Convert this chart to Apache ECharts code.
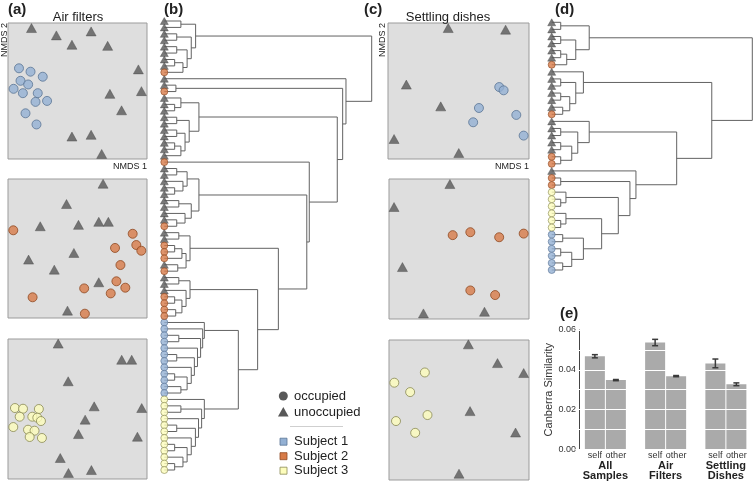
<!DOCTYPE html>
<html><head><meta charset="utf-8">
<script src="https://cdn.jsdelivr.net/npm/echarts@6/dist/echarts.min.js"></script>
<style>html,body{margin:0;padding:0;background:#fff}#c{width:756px;height:482px}</style>
</head><body><div id="c"></div>
<script>
// ================= DATA =================
// NMDS ordinations (box-normalised coordinates, 0-100)
const airS1Occupied = [[7.9,66.7],[16.2,64.2],[25.0,60.5],[9.0,57.5],[14.5,54.8],[4.0,51.6],[10.7,48.4],[21.4,48.4],[19.8,42.0],[28.1,42.7],[12.6,33.6],[20.5,25.4]];
const airS1Unoccupied = [[16.9,96.3],[34.8,90.9],[59.8,93.8],[46.0,84.0],[71.7,83.2],[93.8,65.9],[96.0,49.9],[73.3,47.9],[81.7,35.8],[46.0,16.5],[59.8,17.8],[67.4,3.7]];
const airS2Occupied = [[3.8,63.1],[89.7,60.6],[92.3,52.5],[95.9,48.4],[77.0,50.4],[80.9,38.1],[78.0,26.4],[84.4,21.8],[54.8,21.3],[73.9,17.7],[17.7,14.9],[55.3,3.1]];
const airS2Unoccupied = [[68.4,96.6],[42.1,82.0],[23.2,66.0],[50.7,67.0],[65.3,69.2],[72.2,69.2],[47.4,46.8],[14.8,42.0],[33.3,34.8],[65.3,25.7],[42.8,5.3]];
const airS3Occupied = [[5.0,50.7],[10.8,50.2],[22.2,50.0],[8.4,44.5],[17.5,44.5],[21.1,43.8],[23.7,41.4],[3.8,37.1],[14.4,35.2],[19.1,34.5],[15.6,30.0],[24.4,29.3]];
const airS3Unoccupied = [[36.1,96.7],[81.8,85.2],[89.0,85.2],[43.3,69.8],[62.0,51.9],[96.2,50.7],[55.5,42.4],[50.7,32.1],[93.1,30.2],[37.6,15.0],[43.5,4.3],[60.0,6.4]];
const settS1Occupied = [[78.9,52.9],[82.0,50.5],[64.5,37.5],[60.4,27.0],[91.0,32.4],[96.2,17.2]];
const settS1Unoccupied = [[42.7,96.3],[83.4,95.1],[13.0,54.7],[37.4,38.7],[4.3,14.7],[50.2,4.4]];
const settS2Occupied = [[45.5,59.9],[58.1,62.0],[78.7,58.4],[96.2,61.0],[58.1,20.4],[75.8,17.1]];
const settS2Unoccupied = [[43.5,96.4],[3.6,80.0],[9.6,37.1],[24.6,4.0],[68.2,5.2]];
const settS3Occupied = [[25.6,76.8],[3.8,69.5],[15.1,62.8],[27.5,46.4],[5.0,42.1],[18.7,33.7]];
const settS3Unoccupied = [[56.7,96.9],[77.5,83.5],[96.2,76.4],[57.9,49.2],[90.4,33.9],[50.0,4.5]];

// Dendrograms: leaf classes (T unoccupied, B subject 1, O subject 2, Y subject 3)
const airLeaves = ('TTTTTTTTOTTOTTTTTTTTTTOTTTTTTTTTOTTOOOTOTTTOOOO' + 'BBBBBBBBBBBB' + 'YYYYYYYYYYYY').split('');
// tree nodes: [height, left, right]; numbers are leaf indices
const airTree =
 [1.0,
  [0.151,[0.08,0,1],[0.13,[0.06,2,3],[0.11,[0.06,4,5],[0.09,[0.05,6,7],8]]]],
  [0.876, 9,
   [0.86, [0.056,10,11],
    [0.834,
     [0.167,[0.08,12,[0.05,13,14]],[0.12,[0.06,15,16],[0.1,[0.06,17,18],[0.08,[0.05,19,20],21]]]],
     [0.699, 22,
      [0.687,
       [0.167,[0.11,[0.06,23,24],[0.09,25,[0.05,26,27]]],[0.13,[0.07,28,29],[0.1,30,[0.06,31,32]]]],
       [0.55,
        [0.124,[0.07,33,34],[0.105,[0.085,[0.05,35,36],37],[0.065,38,39]]],
        [0.45,
         [0.124,[0.07,40,41],[0.105,42,[0.085,[0.05,43,44],[0.055,45,46]]]],
         [0.357,
          [0.193,47,[0.185,48,[0.175,[0.07,49,50],[0.16,51,[0.145,[0.06,52,53],[0.13,54,[0.11,[0.05,55,56],[0.08,57,58]]]]]]]],
          [0.193,59,[0.18,[0.08,60,61],[0.165,62,[0.15,[0.06,63,64],[0.13,65,[0.11,[0.05,66,67],[0.09,68,[0.05,69,70]]]]]]]]
         ]]]]]]]]];
const settLeaves = ('TTTTTTO' + 'TTTTTTO' + 'TTTTTOO' + 'T' + 'OO' + 'YYYYYY' + 'BBBBBB').split('');
const settTree =
 [1.0,
  [0.187,[0.045,0,1],[0.12,[0.045,2,3],[0.075,[0.045,4,5],6]]],
  [0.798,
   [0.158,7,[0.12,[0.045,8,9],[0.09,[0.045,10,11],[0.055,12,13]]]],
   [0.623,
    [0.187,14,[0.13,[0.045,15,16],[0.1,[0.045,17,18],[0.045,19,20]]]],
    [0.42, 21,
     [0.39,[0.045,22,23],
      [0.332,[0.071,24,[0.045,25,26]],
       [0.249,[0.071,27,[0.045,28,29]],[0.158,[0.055,30,31],[0.1,[0.045,32,33],[0.055,34,35]]]]]]]]]];

// Canberra similarity
const groups = ['All\nSamples', 'Air\nFilters', 'Settling\nDishes'];
const kinds = ['self', 'other'];
const selfMean = [0.0468, 0.0537, 0.0432];
const selfErr = [0.0008, 0.0016, 0.0022];
const otherMean = [0.0348, 0.0368, 0.0327];
const otherErr = [0.0003, 0.0003, 0.0007];
const simTicks = [0, 0.02, 0.04, 0.06];
const legendShapes = ['occupied', 'unoccupied'];
const legendSubjects = ['Subject 1', 'Subject 2', 'Subject 3'];

// ================= STYLE / LAYOUT =================
const FONT = '"Liberation Sans", Arial, Helvetica, sans-serif';
const FILL = {T:'#585858', B:'#93b0d3', O:'#d77b48', Y:'#fdfdbc'};
const EDGE = {T:'#585858', B:'#5b7595', O:'#8f4a23', Y:'#8a8a55'};
const grids = [], xAxes = [], yAxes = [], series = [];
function addGrid(g, xa, ya) {
  grids.push(g);
  const gi = grids.length - 1;
  xAxes.push(Object.assign({gridIndex: gi}, xa));
  yAxes.push(Object.assign({gridIndex: gi}, ya));
  return {x: xAxes.length - 1, y: yAxes.length - 1};
}

// ---- scatter panels ----
const boxes = [
  {left:8, top:23, width:139, height:136, occ:airS1Occupied, un:airS1Unoccupied, c:'B'},
  {left:8, top:179, width:139, height:139, occ:airS2Occupied, un:airS2Unoccupied, c:'O'},
  {left:8, top:339, width:139, height:140, occ:airS3Occupied, un:airS3Unoccupied, c:'Y'},
  {left:388, top:23, width:141, height:136, occ:settS1Occupied, un:settS1Unoccupied, c:'B'},
  {left:389, top:179, width:140, height:140, occ:settS2Occupied, un:settS2Unoccupied, c:'O'},
  {left:389, top:340, width:140, height:140, occ:settS3Occupied, un:settS3Unoccupied, c:'Y'}
];
boxes.forEach(b => {
  const ax = addGrid(
    {left:b.left, top:b.top, width:b.width, height:b.height, show:true, backgroundColor:'#dedede', borderColor:'#9b9b9b', borderWidth:1},
    {type:'value', min:0, max:100, show:false},
    {type:'value', min:0, max:100, show:false});
  series.push({type:'scatter', xAxisIndex:ax.x, yAxisIndex:ax.y, data:b.un, symbol:'triangle', symbolSize:[10,9], clip:false,
    itemStyle:{color:FILL.T, borderColor:'#444', borderWidth:0.5}, z:3, silent:true});
  series.push({type:'scatter', xAxisIndex:ax.x, yAxisIndex:ax.y, data:b.occ, symbol:'circle', symbolSize:9, clip:false,
    itemStyle:{color:FILL[b.c], borderColor:EDGE[b.c], borderWidth:1}, z:4, silent:true});
});

// ---- dendrograms ----
function walk(node, out) {
  if (typeof node === 'number') return {h:0, y:node};
  const a = walk(node[1], out), b = walk(node[2], out);
  out.push([a.h, a.y, node[0], b.y, b.h]);
  return {h:node[0], y:(a.y + b.y) / 2};
}
function addDendro(g, leaves, tree, sz) {
  const ax = addGrid(g,
    {type:'value', min:0, max:1, show:false},
    {type:'value', min:0, max:leaves.length - 1, inverse:true, show:false});
  const segs = []; walk(tree, segs);
  series.push({type:'custom', xAxisIndex:ax.x, yAxisIndex:ax.y, data:segs, z:1, silent:true, clip:false,
    encode:{x:[0,2,4], y:[1,3]},
    renderItem:(p, api) => {
      const pts = [api.coord([api.value(0), api.value(1)]), api.coord([api.value(2), api.value(1)]),
                   api.coord([api.value(2), api.value(3)]), api.coord([api.value(4), api.value(3)])];
      return {type:'polyline', shape:{points:pts}, style:{stroke:'#626262', lineWidth:1, fill:null}};
    }});
  ['T','B','O','Y'].forEach(k => {
    const d = [];
    leaves.forEach((c, i) => { if (c === k) d.push([0, i]); });
    series.push({type:'scatter', xAxisIndex:ax.x, yAxisIndex:ax.y, data:d, clip:false, silent:true, z:3,
      symbol: k === 'T' ? 'triangle' : 'circle', symbolSize: k === 'T' ? [8,7] : sz,
      itemStyle:{color:FILL[k], borderColor: k === 'T' ? '#444' : EDGE[k], borderWidth: k === 'T' ? 0.5 : 0.8}});
  });
}
addDendro({left:164.3, top:21, width:207.4, height:449}, airLeaves, airTree, 7);
addDendro({left:551.7, top:22.3, width:200.6, height:247.7}, settLeaves, settTree, 7);

// ---- similarity bar chart ----
const bg = addGrid({left:575.25, top:330, width:184.5, height:119.3},
  {type:'category', data:groups, axisLine:{show:false}, axisTick:{show:false},
   axisLabel:{interval:0, fontFamily:FONT, fontWeight:'bold', fontSize:11, color:'#222', margin:12, lineHeight:10}},
  {type:'value', min:simTicks[0], max:simTicks[simTicks.length-1], interval:simTicks[1]-simTicks[0], offset:-3.75,
   axisLine:{show:true, lineStyle:{color:'#444'}}, axisTick:{show:true, length:3, lineStyle:{color:'#444'}},
   axisLabel:{fontFamily:FONT, fontSize:9, color:'#333', margin:3, formatter:v => v.toFixed(2)},
   splitLine:{show:false},
   name:'Canberra Similarity', nameLocation:'middle', nameGap:23,
   nameTextStyle:{fontFamily:FONT, fontSize:11, color:'#333'}});
// white guide lines drawn over the bars
yAxes.push({gridIndex:grids.length-1, type:'value', min:0, max:0.06, interval:0.01, z:10,
  axisLine:{show:false}, axisTick:{show:false}, axisLabel:{show:false},
  splitLine:{show:true, lineStyle:{color:'#ffffff', width:1}}});
const barStyle = {color:'#aaaaaa'};
[selfMean, otherMean].forEach((vals, k) => {
  series.push({type:'bar', name:kinds[k], xAxisIndex:bg.x, yAxisIndex:bg.y, data:vals, barWidth:20, barGap:'5%',
    itemStyle:barStyle, z:2, silent:true,
    label:{show:true, position:'bottom', distance:2, formatter:'{a}', fontFamily:FONT, fontSize:9, color:'#333'}});
});
const errData = [];
groups.forEach((g, i) => {
  errData.push([i, selfMean[i], selfErr[i], 0]);
  errData.push([i, otherMean[i], otherErr[i], 1]);
});
series.push({type:'custom', xAxisIndex:bg.x, yAxisIndex:bg.y, data:errData, z:12, silent:true,
  encode:{x:0, y:1},
  renderItem:(p, api) => {
    const m = api.value(1), e = api.value(2);
    const c = api.coord([api.value(0), m]);
    const x = c[0] + (api.value(3) === 0 ? -10.5 : 10.5);
    const lo = api.coord([api.value(0), m - e])[1], hi = api.coord([api.value(0), m + e])[1];
    const st = {stroke:'#3a3a3a', lineWidth:1.5};
    return {type:'group', children:[
      {type:'line', shape:{x1:x, y1:lo, x2:x, y2:hi}, style:st},
      {type:'line', shape:{x1:x-3, y1:lo, x2:x+3, y2:lo}, style:st},
      {type:'line', shape:{x1:x-3, y1:hi, x2:x+3, y2:hi}, style:st}]};
  }});

// ---- texts & legend ----
const T = (text, x, y, o) => Object.assign({type:'text', x, y, silent:true,
  style:Object.assign({text, fontFamily:FONT, fill:'#222'}, (o && o.style) || {})}, o && o.rot ? {rotation:o.rot} : {});
const graphic = [
  T('(a)', 8, 2, {style:{fontSize:15, fontWeight:'bold'}}),
  T('(b)', 164, 2, {style:{fontSize:15, fontWeight:'bold'}}),
  T('(c)', 364, 2, {style:{fontSize:15, fontWeight:'bold'}}),
  T('(d)', 555, 2, {style:{fontSize:15, fontWeight:'bold'}}),
  T('(e)', 560, 306, {style:{fontSize:15, fontWeight:'bold'}}),
  T('Air filters', 78, 17, {style:{fontSize:13, align:'center', verticalAlign:'middle'}}),
  T('Settling dishes', 448, 17, {style:{fontSize:13, align:'center', verticalAlign:'middle'}}),
  T('NMDS 2', 0, 23, {rot:Math.PI/2, style:{fontSize:9, align:'right', verticalAlign:'top'}}),
  T('NMDS 2', 378, 23, {rot:Math.PI/2, style:{fontSize:9, align:'right', verticalAlign:'top'}}),
  T('NMDS 1', 147, 162, {style:{fontSize:9, align:'right', verticalAlign:'top'}}),
  T('NMDS 1', 529, 162, {style:{fontSize:9, align:'right', verticalAlign:'top'}}),
  {type:'circle', shape:{cx:283.3, cy:396, r:4.5}, style:{fill:FILL.T}, silent:true},
  {type:'polygon', shape:{points:[[278,416.5],[288.6,416.5],[283.3,407]]}, style:{fill:FILL.T}, silent:true},
  T(legendShapes[0], 294, 396, {style:{fontSize:13, verticalAlign:'middle'}}),
  T(legendShapes[1], 294, 412, {style:{fontSize:13, verticalAlign:'middle'}}),
  {type:'line', shape:{x1:290, y1:426.5, x2:343, y2:426.5}, style:{stroke:'#cfcfcf', lineWidth:1}, silent:true}
];
['B','O','Y'].forEach((k, i) => {
  const cy = 441.7 + i * 14.5;
  graphic.push({type:'rect', shape:{x:280, y:cy-3.5, width:7, height:7}, style:{fill:FILL[k], stroke:EDGE[k], lineWidth:0.8}, silent:true});
  graphic.push(T(legendSubjects[i], 294, cy, {style:{fontSize:13, verticalAlign:'middle'}}));
});

const chart = echarts.init(document.getElementById('c'), null, {renderer:'canvas'});
chart.setOption({animation:false, backgroundColor:'#ffffff', grid:grids, xAxis:xAxes, yAxis:yAxes, series, graphic});
</script></body></html>
